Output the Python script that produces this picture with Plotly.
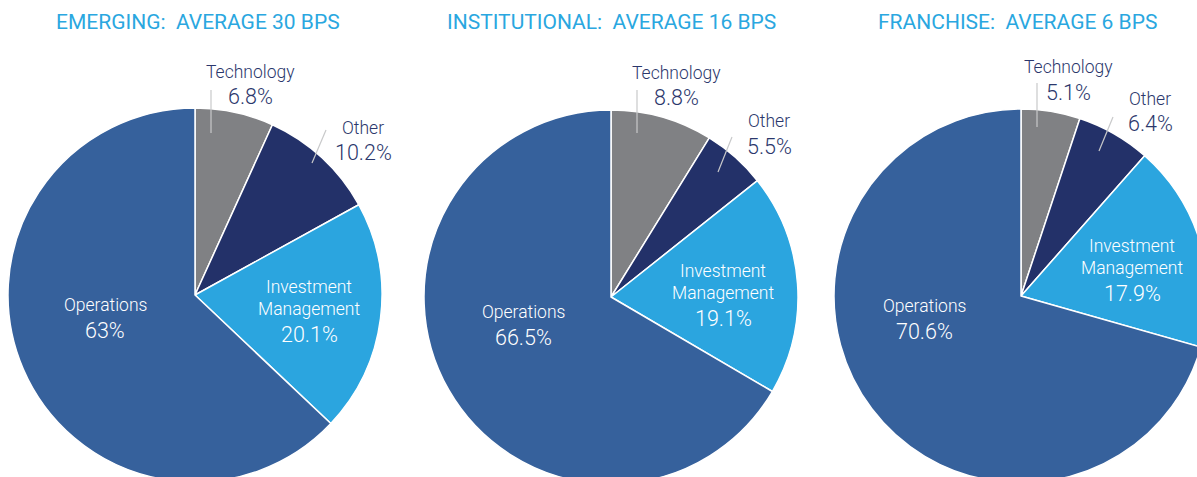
import plotly.graph_objects as go

# ---- data ----
categories = ["Technology", "Other", "Investment Management", "Operations"]
emerging = [6.8, 10.2, 20.1, 63.0]
institutional = [8.8, 5.5, 19.1, 66.5]
franchise = [5.1, 6.4, 17.9, 70.6]
titles = ["EMERGING:\u00a0 AVERAGE 30 BPS",
          "INSTITUTIONAL:\u00a0 AVERAGE 16 BPS",
          "FRANCHISE:\u00a0 AVERAGE 6 BPS"]
series = [emerging, institutional, franchise]

# ---- styling / layout ----
colors = ["#808184", "#233169", "#2BA5DF", "#36619C"]
TITLE_C = "#2AA7E0"
NAVY = "#2B376C"
FONT = "Roboto"
W, H = 1215, 490


def fx(x):
    return x / W


def fy(y):
    return 1 - y / H


# pie geometry in pixels: (cx, cy, r)
geo = [(195, 295, 187), (611, 297, 187), (1021, 296, 187)]
title_x = [197.5, 612, 1017]
# label anchor positions (pixels): tech, other, im, ops
lab_pos = [
    {"tech": (251, 72), "other": (363, 128), "im": (309, 287), "ops": (105, 305)},
    {"tech": (676, 73), "other": (769, 121), "im": (723, 271), "ops": (523, 312)},
    {"tech": (1068, 67), "other": (1150, 99), "im": (1132, 246), "ops": (924, 306)},
]
leaders = [
    [((211, 90), (211, 133)), ((326, 130), (312, 163))],
    [((637, 90), (637, 133)), ((732, 137), (718, 172))],
    [((1037, 83), (1037, 127)), ((1113, 117), (1099, 151))],
]

fig = go.Figure()
annotations = []
shapes = []


def ann(x, y, text, size, color, weight=None):
    f = dict(family=FONT, size=size, color=color)
    if weight:
        f["weight"] = weight
    annotations.append(dict(x=fx(x), y=fy(y), xref="paper", yref="paper",
                            text=text, showarrow=False, font=f,
                            xanchor="center", yanchor="middle"))


def pct(v):
    return f"{v:g}%"


NW = 300   # name weight
PW = 300   # percentage weight
for i, vals in enumerate(series):
    cx, cy, r = geo[i]
    fig.add_trace(go.Pie(
        values=vals, labels=categories, sort=False, direction="clockwise",
        rotation=0, textinfo="none", hoverinfo="label+value",
        marker=dict(colors=colors, line=dict(color="white", width=1.5)),
        domain=dict(x=[fx(cx - r), fx(cx + r)], y=[fy(cy + r), fy(cy - r)]),
        showlegend=False,
    ))
    ann(title_x[i], 22, titles[i], 21, TITLE_C, 400)
    p = lab_pos[i]
    # Technology (outside)
    x, y = p["tech"]
    ann(x, y, categories[0], 17.5, NAVY, NW)
    ann(x, y + 25, pct(vals[0]), 21.5, NAVY, PW)
    # Other (outside)
    x, y = p["other"]
    ann(x, y, categories[1], 17.5, NAVY, NW)
    ann(x, y + 25, pct(vals[1]), 21.5, NAVY, PW)
    # Investment Management (inside)
    x, y = p["im"]
    ann(x, y, "Investment", 17.5, "white", NW)
    ann(x, y + 22, "Management", 17.5, "white", NW)
    ann(x, y + 47, pct(vals[2]), 21.5, "white", PW)
    # Operations (inside)
    x, y = p["ops"]
    ann(x, y, categories[3], 17.5, "white", NW)
    ann(x, y + 25, pct(vals[3]), 21.5, "white", PW)
    for (a, b) in leaders[i]:
        shapes.append(dict(type="line", xref="paper", yref="paper",
                           x0=fx(a[0]), y0=fy(a[1]), x1=fx(b[0]), y1=fy(b[1]),
                           line=dict(color="#C8C9CA", width=1.2)))

fig.update_layout(
    width=W, height=H,
    margin=dict(l=0, r=0, t=0, b=0),
    paper_bgcolor="white", plot_bgcolor="white",
    annotations=annotations, shapes=shapes,
    font=dict(family=FONT),
)

fig.write_html(
    "out.html",
    config={"displayModeBar": False},
    post_script="document.body.style.margin='0';document.body.style.overflow='hidden';"
                "document.documentElement.style.overflow='hidden';",
)
